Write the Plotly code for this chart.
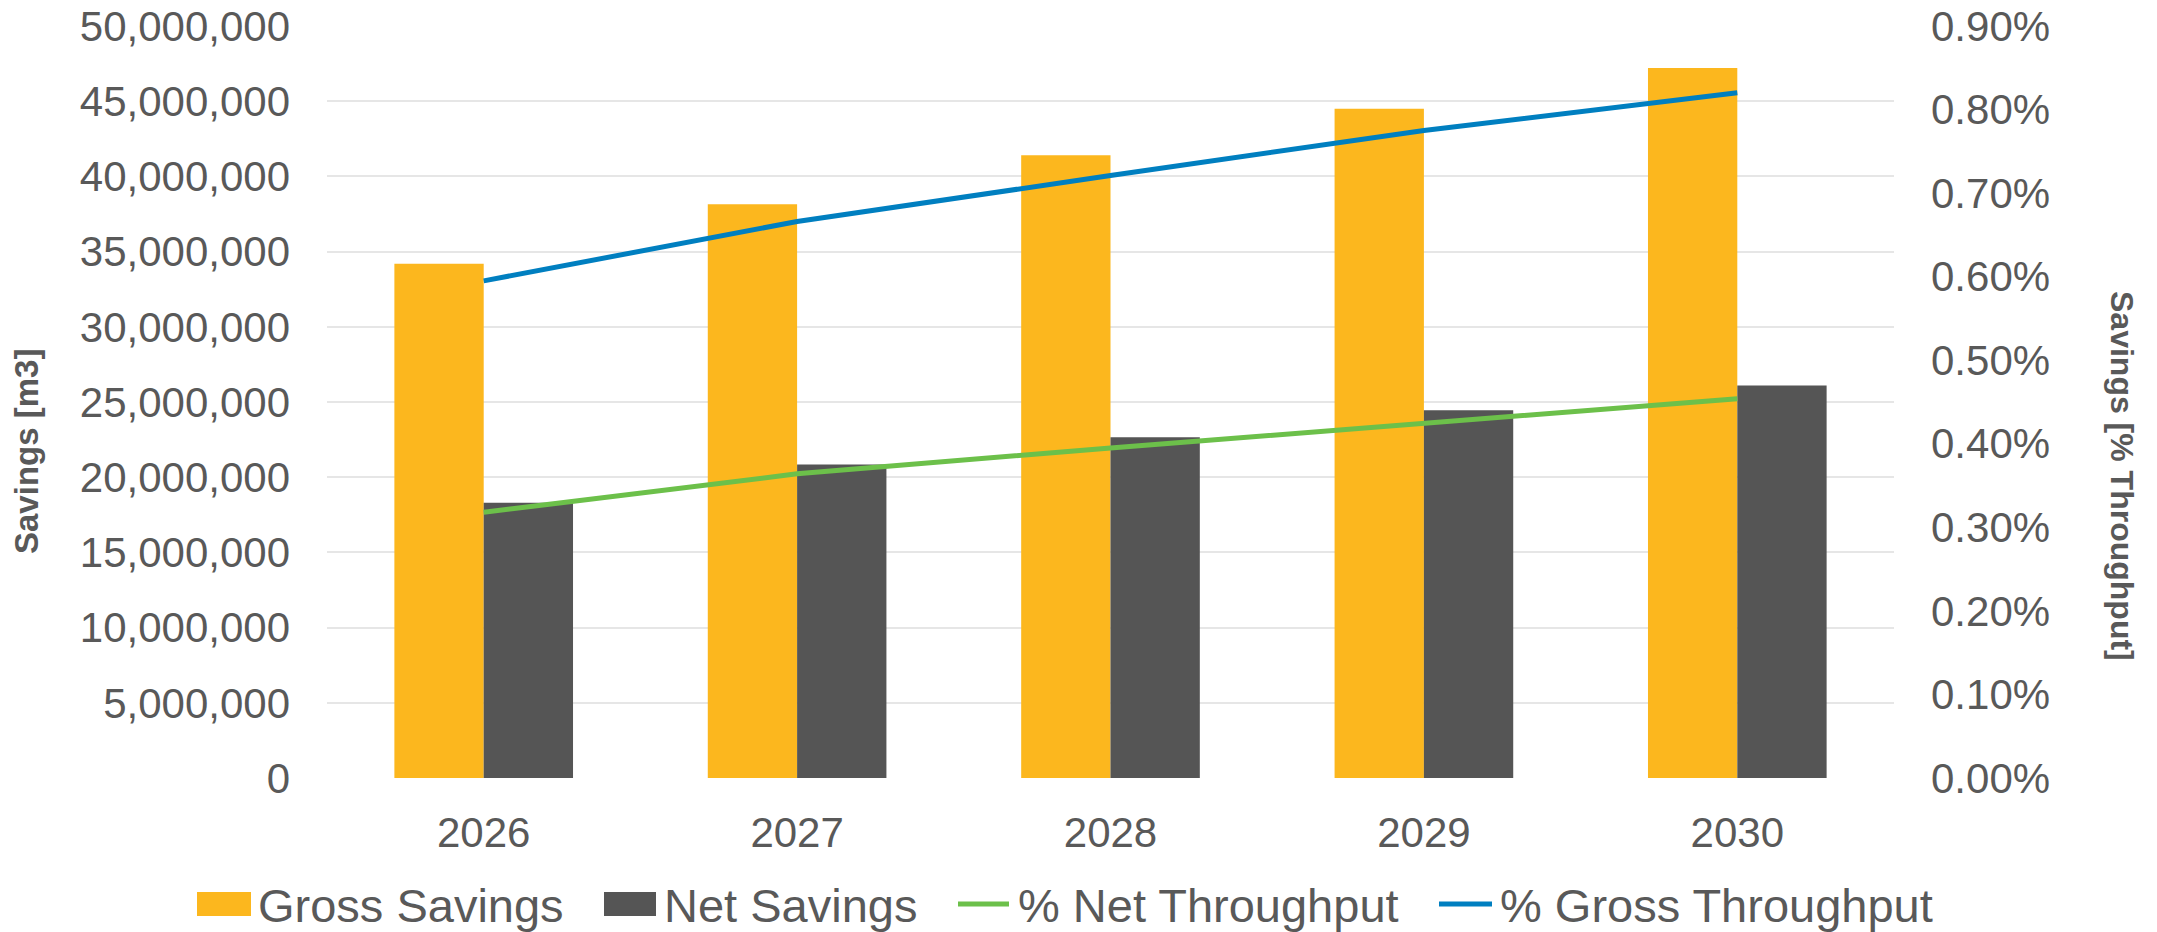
import plotly.graph_objects as go

# ---------------- data ----------------
years = ["2026", "2027", "2028", "2029", "2030"]
gross_savings = [34.2e6, 38.15e6, 41.4e6, 44.5e6, 47.2e6]
net_savings = [18.3e6, 20.85e6, 22.65e6, 24.45e6, 26.1e6]
pct_net_throughput = [0.318, 0.364, 0.395, 0.425, 0.454]      # in %
pct_gross_throughput = [0.595, 0.666, 0.721, 0.775, 0.820]    # in %

series_names = ["Gross Savings", "Net Savings", "% Net Throughput", "% Gross Throughput"]
left_title = "Savings [m3]"
right_title = "Savings [% Throughput]"

# ---------------- style ----------------
W, H = 2157, 932
# plot area in page pixels: x 327..1894, y 26..778
ML, MT = 327, 26
MR = W - 1894
MB = H - 778
PW, PH = W - ML - MR, H - MT - MB

GOLD = "#FCB71E"
DARK = "#555555"
GREEN = "#6CC04A"
BLUE = "#007FC0"
TXT = "#595959"
GRID = "#E6E6E6"
FONT = "Liberation Sans, Arial, sans-serif"
LINE_W = 5


def px_x(px):
    """page pixel x -> paper coordinate"""
    return (px - ML) / PW


def px_y(py):
    """page pixel y -> paper coordinate"""
    return (H - MB - py) / PH


fig = go.Figure()
fig.add_trace(go.Bar(x=years, y=gross_savings, name=series_names[0],
                     marker=dict(color=GOLD, line=dict(width=0)), showlegend=False))
fig.add_trace(go.Bar(x=years, y=net_savings, name=series_names[1],
                     marker=dict(color=DARK, line=dict(width=0)), showlegend=False))
fig.add_trace(go.Scatter(x=years, y=pct_net_throughput, name=series_names[2], yaxis="y2",
                         mode="lines", line=dict(color=GREEN, width=LINE_W), showlegend=False))
fig.add_trace(go.Scatter(x=years, y=pct_gross_throughput, name=series_names[3], yaxis="y2",
                         mode="lines", line=dict(color=BLUE, width=LINE_W), showlegend=False))

fig.update_layout(
    width=W, height=H,
    margin=dict(l=ML, r=MR, t=MT, b=MB, pad=0, autoexpand=False),
    paper_bgcolor="white", plot_bgcolor="white",
    font=dict(family=FONT, color=TXT, size=42),
    barmode="group", bargap=0.43, bargroupgap=0,
    xaxis=dict(showgrid=False, showline=False, zeroline=False, ticks="", automargin=False,
               ticklabeloverflow="allow",
               tickfont=dict(size=42, color=TXT), ticklabelstandoff=26),
    yaxis=dict(range=[0, 50e6], dtick=5e6, tickformat=",d", showgrid=True, automargin=False,
               ticklabeloverflow="allow",
               gridcolor=GRID, gridwidth=2, zeroline=False, showline=False, ticks="",
               tickfont=dict(size=42, color=TXT), ticklabelstandoff=36),
    yaxis2=dict(range=[0, 0.9], dtick=0.1, tickformat=".2f", ticksuffix="%", automargin=False,
                ticklabeloverflow="allow",
                overlaying="y", side="right", showgrid=False, zeroline=False,
                showline=False, ticks="", tickfont=dict(size=42, color=TXT),
                ticklabelstandoff=36),
    showlegend=False,
)

annotations = [
    dict(text="<b>%s</b>" % left_title, xref="paper", yref="paper",
         x=px_x(27), y=px_y(452), textangle=-90, showarrow=False,
         font=dict(size=33, color=TXT, family=FONT), xanchor="center", yanchor="middle"),
    dict(text="<b>%s</b>" % right_title, xref="paper", yref="paper",
         x=px_x(2122), y=px_y(476), textangle=90, showarrow=False,
         font=dict(size=32, color=TXT, family=FONT), xanchor="center", yanchor="middle"),
]

# custom legend (symbols sized like the reference)
legend_y = 904
sym = [(197, 251, "rect", GOLD), (604, 656, "rect", DARK),
       (958, 1009, "line", GREEN), (1439, 1492, "line", BLUE)]
text_x = [256, 662, 1016, 1498]
shapes = []
for (x0, x1, kind, col), tx, name in zip(sym, text_x, series_names):
    if kind == "rect":
        shapes.append(dict(type="rect", xref="paper", yref="paper",
                           x0=px_x(x0), x1=px_x(x1), y0=px_y(legend_y + 12), y1=px_y(legend_y - 12),
                           fillcolor=col, line=dict(width=0)))
    else:
        shapes.append(dict(type="line", xref="paper", yref="paper",
                           x0=px_x(x0), x1=px_x(x1), y0=px_y(legend_y), y1=px_y(legend_y),
                           line=dict(color=col, width=LINE_W)))
    annotations.append(dict(text=name, xref="paper", yref="paper", x=px_x(tx), y=px_y(legend_y + 1),
                            xanchor="left", yanchor="middle", showarrow=False,
                            font=dict(size=47, color=TXT, family=FONT)))

fig.update_layout(annotations=annotations, shapes=shapes)
fig.write_html("out.html", config={"displayModeBar": False},
               post_script="document.body.style.margin='0px';document.body.style.overflow='hidden';")
